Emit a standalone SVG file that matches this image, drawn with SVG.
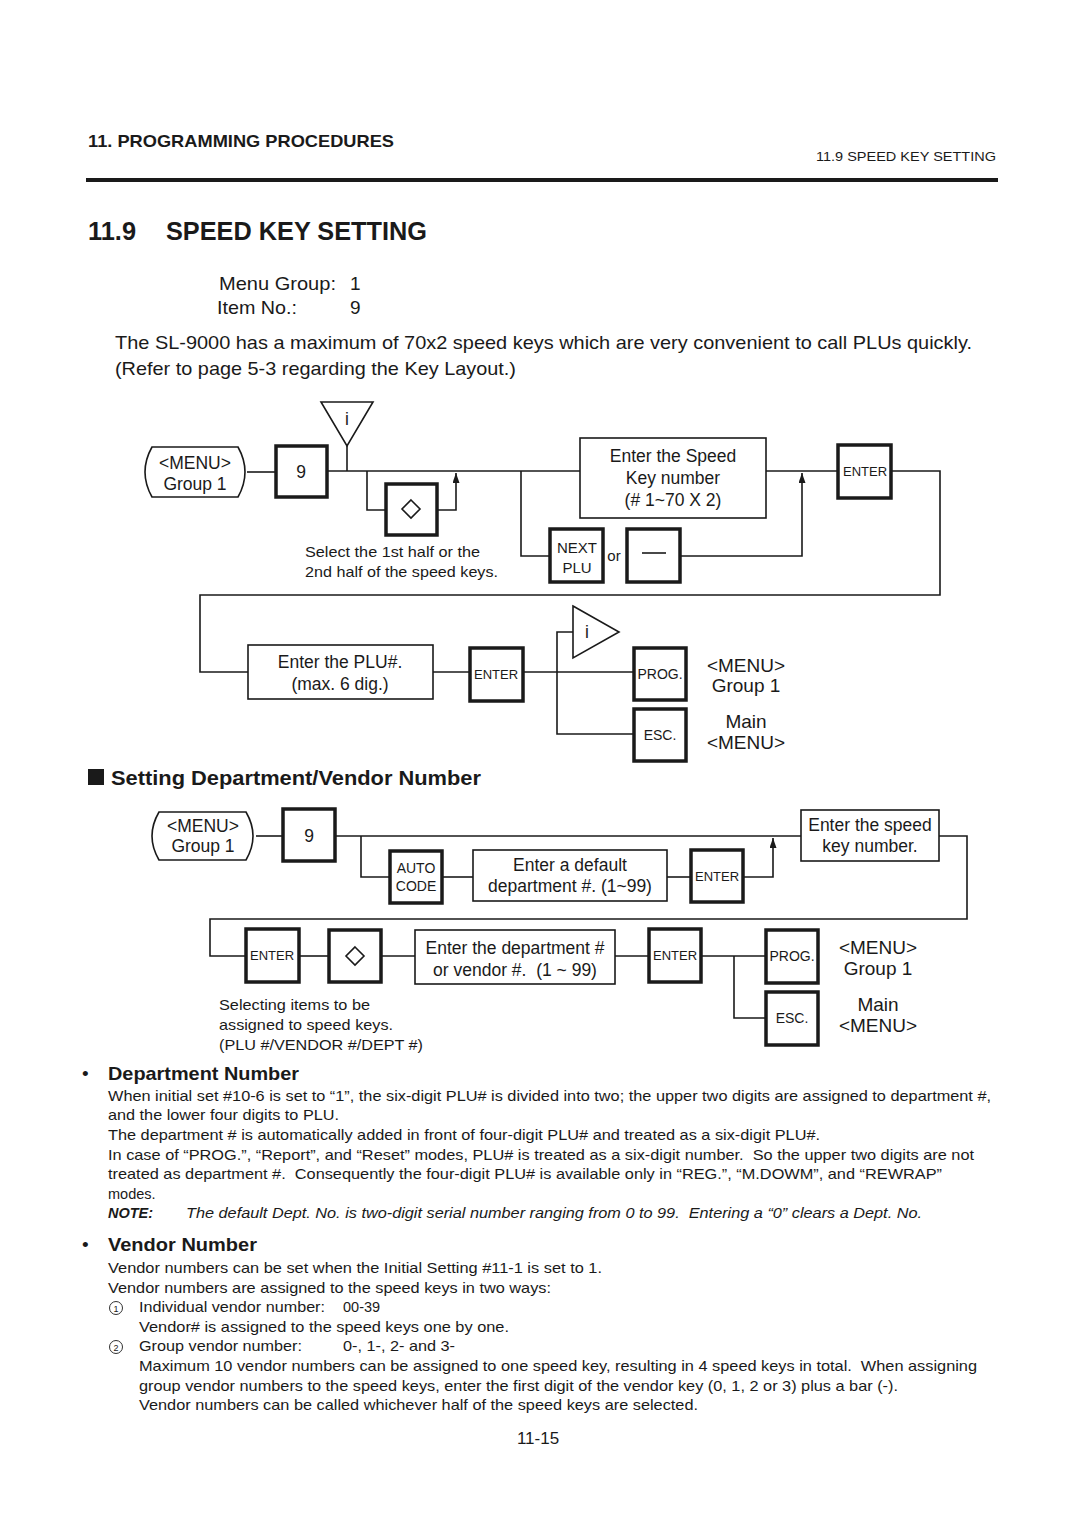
<svg xmlns="http://www.w3.org/2000/svg" width="1080" height="1525" viewBox="0 0 1080 1525">
<defs>
<marker id="arr" viewBox="0 0 10 7" refX="10" refY="3.5" markerWidth="11" markerHeight="7" orient="auto" markerUnits="userSpaceOnUse">
<path d="M0,0 L10,3.5 L0,7 Z" fill="#1a1a1a"/>
</marker>
</defs>
<style>
text{font-family:"Liberation Sans",Arial,sans-serif;fill:#1a1a1a}
.c{text-anchor:middle}
.key{fill:#fff;stroke:#1a1a1a;stroke-width:3.5}
.box{fill:#fff;stroke:#1a1a1a;stroke-width:1.6}
.ln{fill:none;stroke:#1a1a1a;stroke-width:1.6}
.t17{font-size:17.5px}
.t15{font-size:15px}
.t13{font-size:13px}
.t14{font-size:14.5px}
.t19{font-size:19px}
</style>
<rect width="1080" height="1525" fill="#fff"/>

<!-- header -->
<text x="88" y="147" font-size="17" font-weight="bold" textLength="306" lengthAdjust="spacingAndGlyphs">11. PROGRAMMING PROCEDURES</text>
<text x="816" y="161" font-size="13" textLength="180" lengthAdjust="spacingAndGlyphs">11.9 SPEED KEY SETTING</text>
<rect x="86" y="178" width="912" height="4" fill="#1a1a1a"/>
<text x="88" y="240" font-size="26" font-weight="bold" textLength="48" lengthAdjust="spacingAndGlyphs">11.9</text>
<text x="166" y="240" font-size="26" font-weight="bold" textLength="261" lengthAdjust="spacingAndGlyphs">SPEED KEY SETTING</text>

<text x="219" y="290" class="t19" textLength="117" lengthAdjust="spacingAndGlyphs">Menu Group:</text>
<text x="350" y="290" class="t19">1</text>
<text x="217" y="314" class="t19" textLength="80" lengthAdjust="spacingAndGlyphs">Item No.:</text>
<text x="350" y="314" class="t19">9</text>
<text x="115" y="349" class="t19" textLength="857" lengthAdjust="spacingAndGlyphs">The SL-9000 has a maximum of 70x2 speed keys which are very convenient to call PLUs quickly.</text>
<text x="115" y="375" class="t19" textLength="401" lengthAdjust="spacingAndGlyphs">(Refer to page 5-3 regarding the Key Layout.)</text>

<!-- diagram 1 connectors -->
<g id="connectors1">
<path class="ln" d="M247,472 H276"/>
<path class="ln" d="M327,471 H580"/>
<path class="ln" d="M347,446 V471"/>
<path class="ln" d="M367,471 V510 H386"/>
<path class="ln" d="M437,510 H456 V473" marker-end="url(#arr)"/>
<path class="ln" d="M521,471 V556 H550"/>
<path class="ln" d="M680,556 H802 V473" marker-end="url(#arr)"/>
<path class="ln" d="M766,471 H838"/>
<path class="ln" d="M891,471 H940 V595 H200 V672 H248"/>
<path class="ln" d="M433,672 H470"/>
<path class="ln" d="M523,672 H634"/>
<path class="ln" d="M573,632 H557 V734 H634"/>
</g>

<g id="n1-tri">
<path class="ln" d="M321,402 H373 L347,446 Z"/>
<text x="347" y="425" class="c t17">i</text>
</g>
<g id="n1-menu">
<path class="box" d="M152,447 H238 Q252,472 238,497 H152 Q138,472 152,447 Z"/>
<text x="195" y="469" class="c t17">&lt;MENU&gt;</text>
<text x="195" y="490" class="c t17">Group 1</text>
</g>
<g id="n1-9">
<rect class="key" x="276" y="446" width="51" height="51"/>
<text x="301" y="478" class="c t17">9</text>
</g>
<g id="n1-diamond">
<rect class="key" x="386" y="484" width="51" height="51"/>
<path class="ln" d="M411,500 L420,509 L411,518 L402,509 Z"/>
</g>
<g id="n1-note">
<text x="305" y="557" class="t15" textLength="175" lengthAdjust="spacingAndGlyphs">Select the 1st half or the</text>
<text x="305" y="577" class="t15" textLength="193" lengthAdjust="spacingAndGlyphs">2nd half of the speed keys.</text>
</g>
<g id="n1-speed">
<rect class="box" x="580" y="438" width="186" height="80"/>
<text x="673" y="462" class="c t17">Enter the Speed</text>
<text x="673" y="484" class="c t17">Key number</text>
<text x="673" y="506" class="c t17">(# 1~70 X 2)</text>
</g>
<g id="n1-nextplu">
<rect class="key" x="550" y="529" width="53" height="53"/>
<text x="577" y="553" class="c t15">NEXT</text>
<text x="577" y="573" class="c t15">PLU</text>
</g>
<text x="614" y="561" class="c t15">or</text>
<g id="n1-dash">
<rect class="key" x="627" y="529" width="53" height="53"/>
<path class="ln" d="M642,553 H666"/>
</g>
<g id="n1-enter1">
<rect class="key" x="838" y="445" width="53" height="53"/>
<text x="865" y="476" class="c t13">ENTER</text>
</g>
<g id="n1-plu">
<rect class="box" x="248" y="645" width="185" height="54"/>
<text x="340" y="668" class="c t17">Enter the PLU#.</text>
<text x="340" y="690" class="c t17">(max. 6 dig.)</text>
</g>
<g id="n1-enter2">
<rect class="key" x="470" y="648" width="53" height="53"/>
<text x="496" y="679" class="c t13">ENTER</text>
</g>
<g id="n1-tri2">
<path class="box" d="M573,606 L619,632 L573,658 Z"/>
<text x="587" y="638" class="c t17">i</text>
</g>
<g id="n1-prog">
<rect class="key" x="634" y="648" width="52" height="52"/>
<text x="660" y="679" class="c" font-size="14">PROG.</text>
<text x="746" y="672" class="c t19">&lt;MENU&gt;</text>
<text x="746" y="692" class="c t19">Group 1</text>
</g>
<g id="n1-esc">
<rect class="key" x="634" y="709" width="52" height="52"/>
<text x="660" y="740" class="c" font-size="14">ESC.</text>
<text x="746" y="728" class="c t19">Main</text>
<text x="746" y="749" class="c t19">&lt;MENU&gt;</text>
</g>

<!-- section 2 -->
<rect x="88" y="769" width="16" height="16" fill="#1a1a1a"/>
<text x="111" y="785" font-size="21" font-weight="bold" textLength="370" lengthAdjust="spacingAndGlyphs">Setting Department/Vendor Number</text>

<g id="connectors2">
<path class="ln" d="M256,836 H283"/>
<path class="ln" d="M335,836 H801"/>
<path class="ln" d="M361,836 V877 H390"/>
<path class="ln" d="M442,877 H473"/>
<path class="ln" d="M667,877 H691"/>
<path class="ln" d="M743,877 H773 V838" marker-end="url(#arr)"/>
<path class="ln" d="M939,836 H967 V919 H210 V956 H246"/>
<path class="ln" d="M299,956 H329"/>
<path class="ln" d="M381,956 H415"/>
<path class="ln" d="M615,956 H649"/>
<path class="ln" d="M701,956 H766"/>
<path class="ln" d="M734,956 V1018 H766"/>
</g>

<g id="n2-menu">
<path class="box" d="M159,812 H246 Q260,836 246,860 H159 Q145,836 159,812 Z"/>
<text x="203" y="832" class="c t17">&lt;MENU&gt;</text>
<text x="203" y="852" class="c t17">Group 1</text>
</g>
<g id="n2-9">
<rect class="key" x="283" y="809" width="52" height="52"/>
<text x="309" y="842" class="c t17">9</text>
</g>
<g id="n2-auto">
<rect class="key" x="390" y="851" width="52" height="52"/>
<text x="416" y="873" class="c" font-size="14">AUTO</text>
<text x="416" y="891" class="c" font-size="14">CODE</text>
</g>
<g id="n2-default">
<rect class="box" x="473" y="850" width="194" height="51"/>
<text x="570" y="871" class="c t17">Enter a default</text>
<text x="570" y="892" class="c t17">department #. (1~99)</text>
</g>
<g id="n2-enter1">
<rect class="key" x="691" y="850" width="52" height="52"/>
<text x="717" y="881" class="c t13">ENTER</text>
</g>
<g id="n2-speed">
<rect class="box" x="801" y="810" width="138" height="51"/>
<text x="870" y="831" class="c t17">Enter the speed</text>
<text x="870" y="852" class="c t17">key number.</text>
</g>
<g id="n2-enter2">
<rect class="key" x="246" y="929" width="53" height="53"/>
<text x="272" y="960" class="c t13">ENTER</text>
</g>
<g id="n2-diamond">
<rect class="key" x="329" y="930" width="52" height="52"/>
<path class="ln" d="M355,947 L364,956 L355,965 L346,956 Z"/>
</g>
<g id="n2-dept">
<rect class="box" x="415" y="930" width="200" height="54"/>
<text x="515" y="954" class="c t17">Enter the department #</text>
<text x="515" y="976" class="c t17" xml:space="preserve">or vendor #.  (1 ~ 99)</text>
</g>
<g id="n2-enter3">
<rect class="key" x="649" y="929" width="52" height="53"/>
<text x="675" y="960" class="c t13">ENTER</text>
</g>
<g id="n2-prog">
<rect class="key" x="766" y="930" width="52" height="53"/>
<text x="792" y="961" class="c" font-size="14">PROG.</text>
<text x="878" y="954" class="c t19">&lt;MENU&gt;</text>
<text x="878" y="975" class="c t19">Group 1</text>
</g>
<g id="n2-esc">
<rect class="key" x="766" y="992" width="52" height="53"/>
<text x="792" y="1023" class="c" font-size="14">ESC.</text>
<text x="878" y="1011" class="c t19">Main</text>
<text x="878" y="1032" class="c t19">&lt;MENU&gt;</text>
</g>
<g id="n2-note">
<text x="219" y="1010" class="t15" textLength="151" lengthAdjust="spacingAndGlyphs">Selecting items to be</text>
<text x="219" y="1030" class="t15" textLength="174" lengthAdjust="spacingAndGlyphs">assigned to speed keys.</text>
<text x="219" y="1050" class="t15" textLength="204" lengthAdjust="spacingAndGlyphs">(PLU #/VENDOR #/DEPT #)</text>
</g>

<!-- body text -->
<text x="82" y="1080" font-size="19">•</text>
<text x="108" y="1080" font-size="19" font-weight="bold" textLength="191" lengthAdjust="spacingAndGlyphs">Department Number</text>
<g>
<text x="108" y="1101" class="t14" textLength="883" lengthAdjust="spacingAndGlyphs">When initial set #10-6 is set to “1”, the six-digit PLU# is divided into two; the upper two digits are assigned to department #,</text>
<text x="108" y="1120" class="t14" textLength="231" lengthAdjust="spacingAndGlyphs">and the lower four digits to PLU.</text>
<text x="108" y="1140" class="t14" textLength="712" lengthAdjust="spacingAndGlyphs">The department # is automatically added in front of four-digit PLU# and treated as a six-digit PLU#.</text>
<text x="108" y="1160" class="t14" textLength="866" lengthAdjust="spacingAndGlyphs" xml:space="preserve">In case of “PROG.”, “Report”, and “Reset” modes, PLU# is treated as a six-digit number.  So the upper two digits are not</text>
<text x="108" y="1179" class="t14" textLength="834" lengthAdjust="spacingAndGlyphs" xml:space="preserve">treated as department #.  Consequently the four-digit PLU# is available only in “REG.”, “M.DOWM”, and “REWRAP”</text>
<text x="108" y="1199" class="t14">modes.</text>
<text x="108" y="1218" class="t14" font-weight="bold" font-style="italic">NOTE:</text>
<text x="186" y="1218" class="t14" font-style="italic" textLength="736" lengthAdjust="spacingAndGlyphs" xml:space="preserve">The default Dept. No. is two-digit serial number ranging from 0 to 99.  Entering a “0” clears a Dept. No.</text>
</g>

<text x="82" y="1251" font-size="19">•</text>
<text x="108" y="1251" font-size="19" font-weight="bold" textLength="149" lengthAdjust="spacingAndGlyphs">Vendor Number</text>
<text x="108" y="1273" class="t14" textLength="494" lengthAdjust="spacingAndGlyphs">Vendor numbers can be set when the Initial Setting #11-1 is set to 1.</text>
<text x="108" y="1293" class="t14" textLength="443" lengthAdjust="spacingAndGlyphs">Vendor numbers are assigned to the speed keys in two ways:</text>
<circle cx="116" cy="1308" r="6.5" fill="none" stroke="#1a1a1a" stroke-width="0.9"/>
<text x="116" y="1312" class="c" font-size="9">1</text>
<text x="139" y="1312" class="t14" textLength="186" lengthAdjust="spacingAndGlyphs">Individual vendor number:</text>
<text x="343" y="1312" class="t14">00-39</text>
<text x="139" y="1332" class="t14" textLength="370" lengthAdjust="spacingAndGlyphs">Vendor# is assigned to the speed keys one by one.</text>
<circle cx="116" cy="1347" r="6.5" fill="none" stroke="#1a1a1a" stroke-width="0.9"/>
<text x="116" y="1351" class="c" font-size="9">2</text>
<text x="139" y="1351" class="t14" textLength="163" lengthAdjust="spacingAndGlyphs">Group vendor number:</text>
<text x="343" y="1351" class="t14" textLength="112" lengthAdjust="spacingAndGlyphs">0-, 1-, 2- and 3-</text>
<text x="139" y="1371" class="t14" textLength="838" lengthAdjust="spacingAndGlyphs" xml:space="preserve">Maximum 10 vendor numbers can be assigned to one speed key, resulting in 4 speed keys in total.  When assigning</text>
<text x="139" y="1391" class="t14" textLength="759" lengthAdjust="spacingAndGlyphs">group vendor numbers to the speed keys, enter the first digit of the vendor key (0, 1, 2 or 3) plus a bar (-).</text>
<text x="139" y="1410" class="t14" textLength="559" lengthAdjust="spacingAndGlyphs">Vendor numbers can be called whichever half of the speed keys are selected.</text>

<text x="538" y="1444" class="c" font-size="17">11-15</text>
</svg>
